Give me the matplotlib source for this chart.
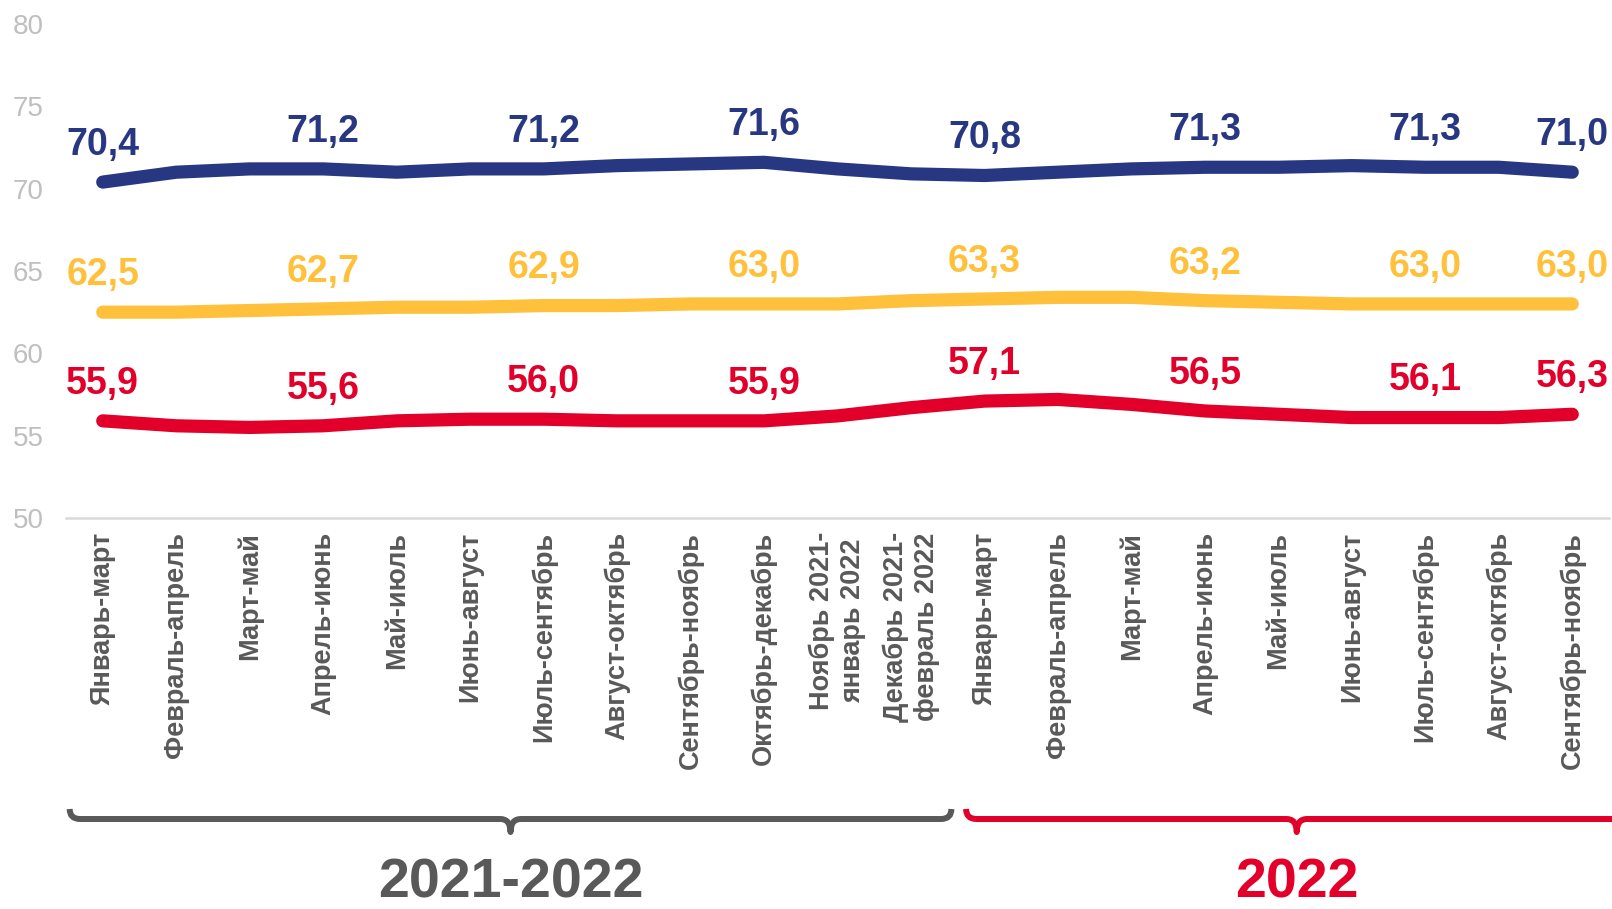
import matplotlib
matplotlib.use("Agg")
import matplotlib.pyplot as plt
import matplotlib.transforms as mtransforms
from matplotlib.path import Path
from matplotlib.patches import PathPatch

categories = ["Январь-март", "Февраль-апрель", "Март-май", "Апрель-июнь", "Май-июль",
              "Июнь-август", "Июль-сентябрь", "Август-октябрь", "Сентябрь-ноябрь",
              "Октябрь-декабрь", "Ноябрь 2021-\nянварь 2022", "Декабрь 2021-\nфевраль 2022",
              "Январь-март", "Февраль-апрель", "Март-май", "Апрель-июнь", "Май-июль",
              "Июнь-август", "Июль-сентябрь", "Август-октябрь", "Сентябрь-ноябрь"]

blue_values = [70.4, 71.0, 71.2, 71.2, 71.0, 71.2, 71.2, 71.4, 71.5, 71.6, 71.2,
               70.9, 70.8, 71.0, 71.2, 71.3, 71.3, 71.4, 71.3, 71.3, 71.0]
yellow_values = [62.5, 62.5, 62.6, 62.7, 62.8, 62.8, 62.9, 62.9, 63.0, 63.0, 63.0,
                 63.2, 63.3, 63.4, 63.4, 63.2, 63.1, 63.0, 63.0, 63.0, 63.0]
red_values = [55.9, 55.6, 55.5, 55.6, 55.9, 56.0, 56.0, 55.9, 55.9, 55.9, 56.2,
              56.7, 57.1, 57.2, 56.9, 56.5, 56.3, 56.1, 56.1, 56.1, 56.3]
label_idx = [0, 3, 6, 9, 12, 15, 18, 20]

y_ticks = [50, 55, 60, 65, 70, 75, 80]
period_labels = ["2021-2022", "2022"]

BLUE = "#283782"
YELLOW = "#FFC13B"
RED = "#E2002A"
GRAY = "#595959"

plt.rcParams['font.family'] = ['Liberation Sans', 'DejaVu Sans']

fig = plt.figure(figsize=(16.12, 9.09), dpi=100)
ax = fig.add_axes([66 / 1612, 1 - 518 / 909, (1609 - 66) / 1612, (518 - 24) / 909])

x = list(range(len(categories)))
for vals, col in [(blue_values, BLUE), (yellow_values, YELLOW), (red_values, RED)]:
    ax.plot(x, vals, color=col, lw=9.5, solid_capstyle='round', solid_joinstyle='round',
            clip_on=False, zorder=3)
    for i in label_idx:
        ax.annotate(f"{vals[i]:.1f}".replace('.', ','), (x[i], vals[i]),
                    xytext=(0, 19.5), textcoords='offset points', ha='center', va='baseline',
                    fontsize=27, fontweight='bold', color=col, annotation_clip=False)

ax.set_xlim(-0.5, len(categories) - 0.5)
ax.set_ylim(50, 80)
ax.set_yticks(y_ticks)
ax.set_yticklabels([str(v) for v in y_ticks])
ax.tick_params(axis='y', length=0, labelsize=20, labelcolor="#BFBFBF", pad=16)
ax.set_xticks(x)
ax.set_xticklabels(categories, rotation=90, fontsize=19.5, fontweight='bold', color=GRAY,
                   linespacing=1.25)
ax.tick_params(axis='x', length=0, pad=10)
for s in ['top', 'right', 'left']:
    ax.spines[s].set_visible(False)
ax.spines['bottom'].set_color("#D9D9D9")
ax.spines['bottom'].set_linewidth(1.8)
ax.patch.set_alpha(0)

# braces
trans = mtransforms.blended_transform_factory(ax.transData, fig.transFigure)
ytop = 1 - 809 / 909
ybar = 1 - 819 / 909
ytip = 1 - 832 / 909
rx = 0.14


def brace(x0, x1, xc, color):
    verts = [(x0, ytop), (x0, ybar), (x0 + rx, ybar), (xc - rx, ybar), (xc, ybar), (xc, ytip),
             (xc, ybar), (xc + rx, ybar), (x1 - rx, ybar), (x1, ybar), (x1, ytop)]
    codes = [Path.MOVETO, Path.CURVE3, Path.CURVE3, Path.LINETO, Path.CURVE3, Path.CURVE3,
             Path.CURVE3, Path.CURVE3, Path.LINETO, Path.CURVE3, Path.CURVE3]
    p = PathPatch(Path(verts, codes), transform=trans, fill=False, edgecolor=color,
                  lw=4.3, clip_on=False, capstyle='butt', joinstyle='round')
    fig.add_artist(p)


brace(-0.45, 11.55, 5.55, GRAY)
brace(11.75, 20.9, 16.25, RED)

t1 = fig.text(0, 0, period_labels[0], transform=trans, fontsize=40, fontweight='bold',
              color=GRAY, ha='center', va='baseline')
t2 = fig.text(0, 0, period_labels[1], transform=trans, fontsize=40, fontweight='bold',
              color=RED, ha='center', va='baseline')
t1.set_position((5.55, 1 - 897 / 909))
t2.set_position((16.25, 1 - 897 / 909))

fig.savefig("out.png", dpi=100)
